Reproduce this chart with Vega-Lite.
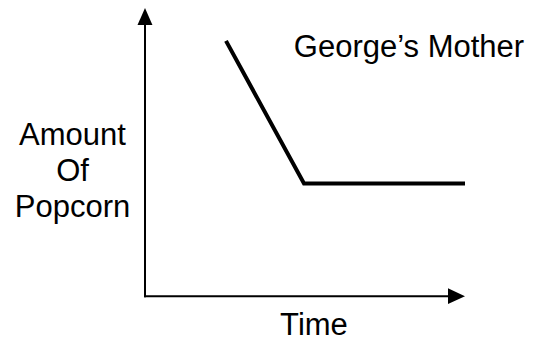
{
  "$schema": "https://vega.github.io/schema/vega-lite/v6.json",
  "width": 534,
  "height": 341,
  "autosize": {"type": "fit", "contains": "padding"},
  "padding": 0,
  "background": "white",
  "config": {"view": {"stroke": null}},
  "datasets": {
    "axes": [
      {"name": "Amount", "t": 0, "a": -0.034, "t2": 0, "a2": 9.327},
      {"name": "Time", "t": -0.03, "a": 0, "t2": 9.6875, "a2": 0}
    ],
    "curve": [
      {"i": 0, "t": 2.531, "a": 8.62},
      {"i": 1, "t": 4.969, "a": 3.805},
      {"i": 2, "t": 10, "a": 3.805}
    ],
    "arrows": [
      {"dir": "up", "t": 0, "a": 9.444},
      {"dir": "right", "t": 9.734, "a": 0}
    ],
    "labels": [
      {"text": "George’s Mother", "t": 8.25, "a": 8.081},
      {"text": "Amount", "t": -2.266, "a": 5.118},
      {"text": "Of", "t": -2.266, "a": 3.872},
      {"text": "Popcorn", "t": -2.266, "a": 2.66},
      {"text": "Time", "t": 5.281, "a": -1.296}
    ]
  },
  "encoding": {
    "x": {"field": "t", "type": "quantitative", "scale": {"domain": [-4.53125, 12.15625], "nice": false, "zero": false}, "axis": null},
    "y": {"field": "a", "type": "quantitative", "scale": {"domain": [-1.4815, 10], "nice": false, "zero": false}, "axis": null}
  },
  "layer": [
    {
      "data": {"name": "axes"},
      "mark": {"type": "rule", "color": "black", "strokeWidth": 2},
      "encoding": {
        "x2": {"field": "t2"},
        "y2": {"field": "a2"}
      }
    },
    {
      "data": {"name": "curve"},
      "mark": {"type": "line", "color": "black", "strokeWidth": 4, "strokeCap": "butt", "strokeJoin": "miter"},
      "encoding": {
        "order": {"field": "i", "type": "quantitative"}
      }
    },
    {
      "data": {"name": "arrows"},
      "mark": {"type": "point", "filled": true, "color": "black", "opacity": 1, "size": 289, "strokeWidth": 0},
      "encoding": {
        "shape": {"field": "dir", "type": "nominal", "scale": {"domain": ["up", "right"], "range": ["M0,-1L0.88,1L-0.88,1Z", "M1,0L-1,-0.94L-1,0.94Z"]}, "legend": null}
      }
    },
    {
      "data": {"name": "labels"},
      "mark": {"type": "text", "align": "center", "baseline": "alphabetic", "font": "Liberation Sans", "fontSize": 31, "color": "black"},
      "encoding": {
        "text": {"field": "text", "type": "nominal"}
      }
    }
  ]
}
